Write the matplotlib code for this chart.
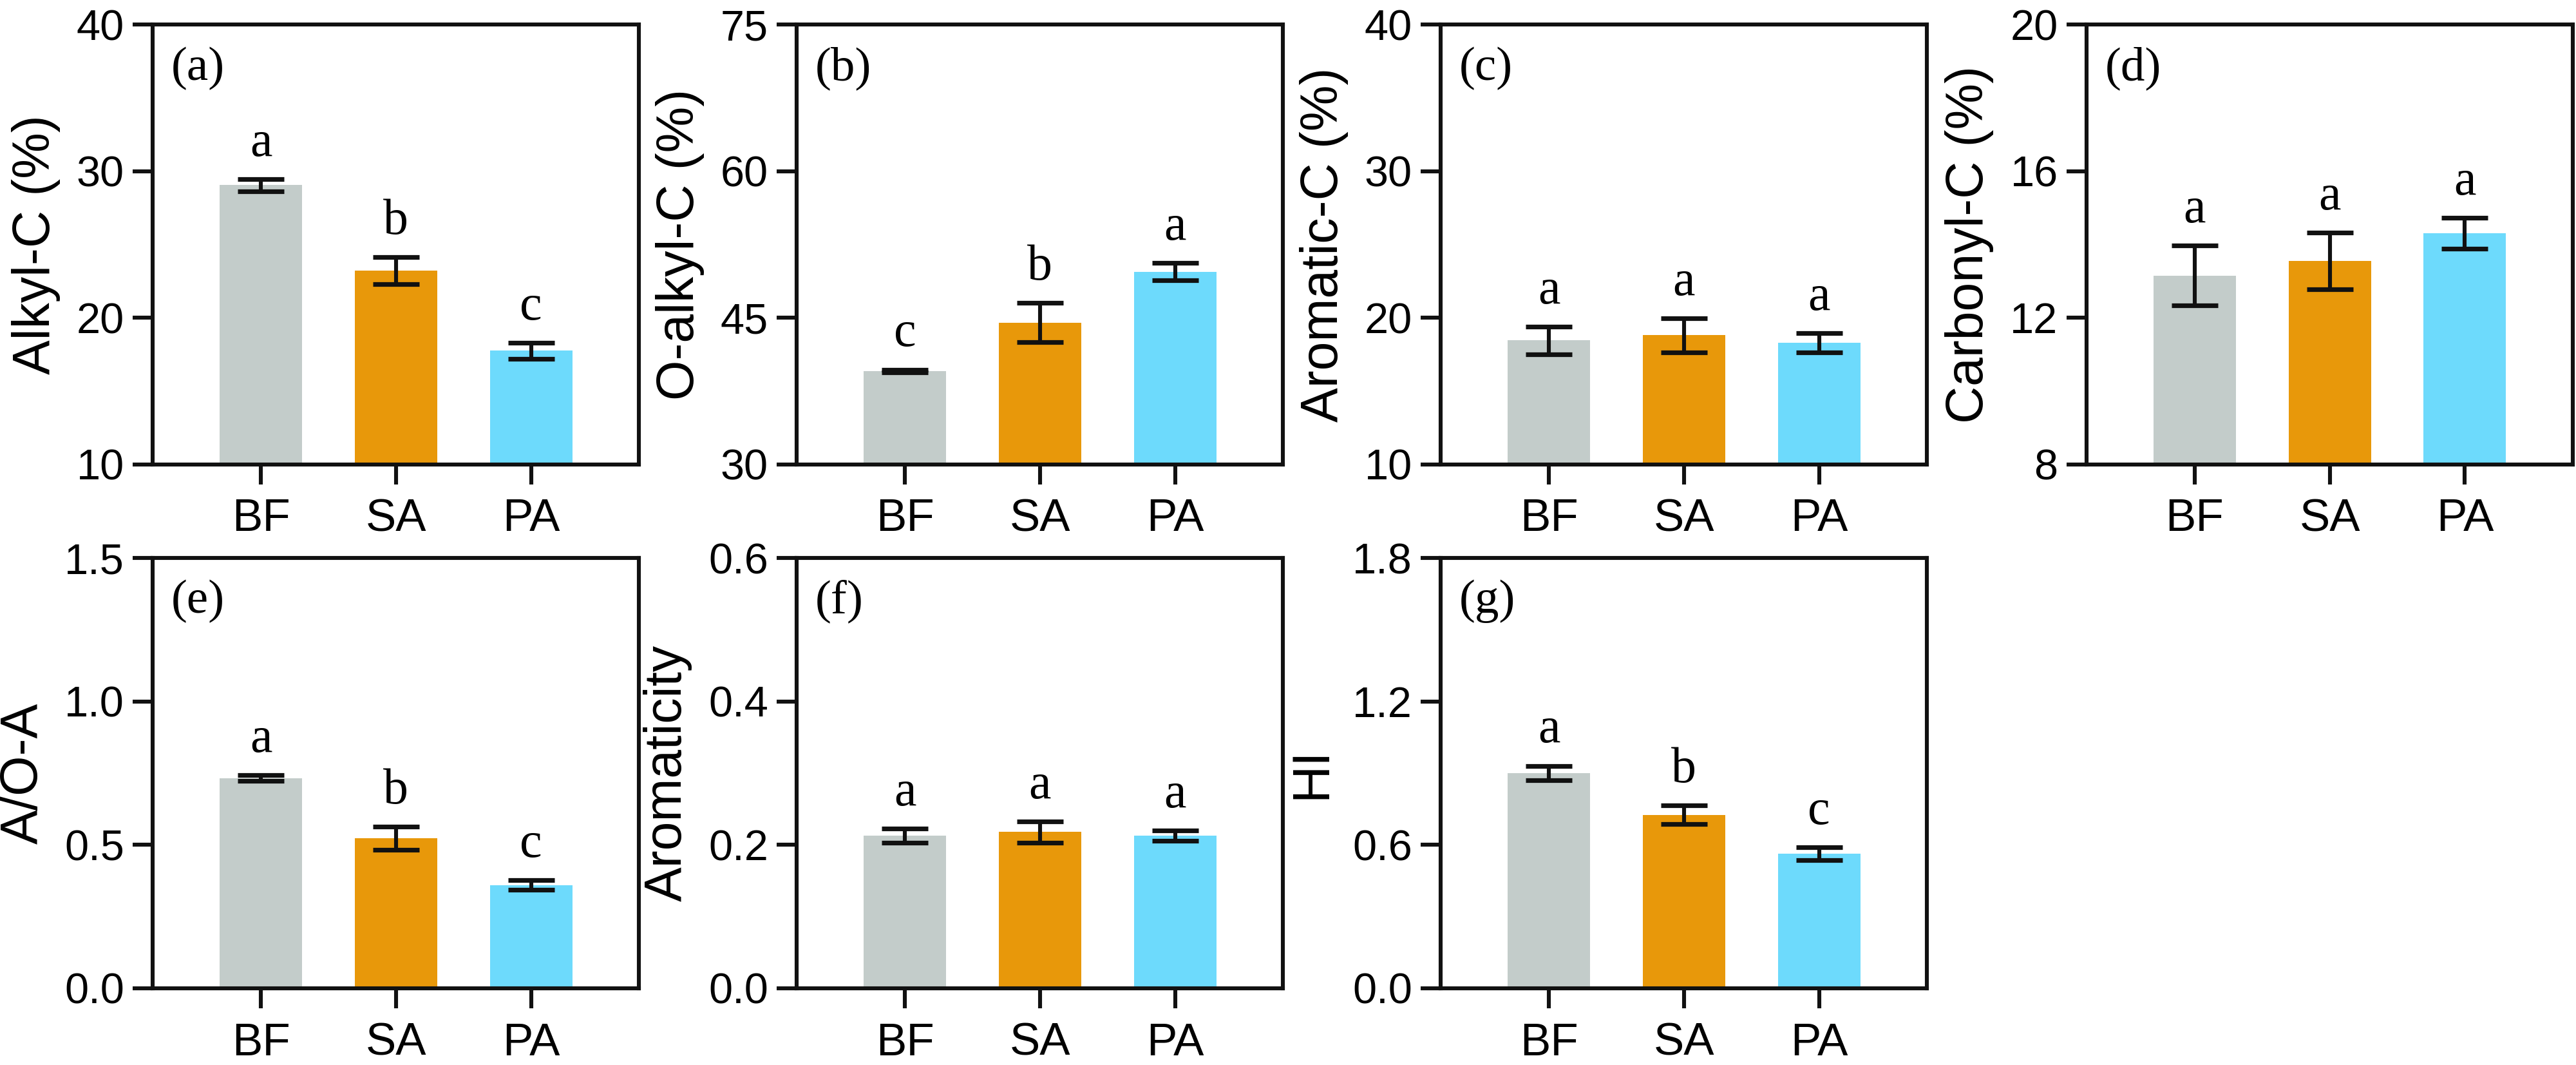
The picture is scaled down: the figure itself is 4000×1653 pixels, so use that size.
"""
Seven-panel bar chart of carbon functional groups (BF / SA / PA) with error bars
and significance letters.
"""

from __future__ import annotations

import matplotlib

matplotlib.use("Agg")
import matplotlib.pyplot as plt

groups = ["BF", "SA", "PA"]
bar_colors = ["#c3ccca", "#e8980a", "#6ddafc"]

panel_tags = ["(a)", "(b)", "(c)", "(d)", "(e)", "(f)", "(g)"]
ylabels = ["Alkyl-C (%)", "O-alkyl-C (%)", "Aromatic-C (%)", "Carbonyl-C (%)",
           "A/O-A", "Aromaticity", "HI"]

alkyl_mean = [29.05, 23.2, 17.75]
alkyl_err = [0.42, 0.93, 0.55]
alkyl_sig = ["a", "b", "c"]

oalkyl_mean = [39.55, 44.5, 49.7]
oalkyl_err = [0.15, 2.0, 0.9]
oalkyl_sig = ["c", "b", "a"]

aromatic_mean = [18.45, 18.8, 18.3]
aromatic_err = [0.95, 1.15, 0.65]
aromatic_sig = ["a", "a", "a"]

carbonyl_mean = [13.15, 13.55, 14.3]
carbonyl_err = [0.82, 0.77, 0.42]
carbonyl_sig = ["a", "a", "a"]

ao_mean = [0.733, 0.523, 0.360]
ao_err = [0.010, 0.040, 0.017]
ao_sig = ["a", "b", "c"]

aromaticity_mean = [0.213, 0.218, 0.213]
aromaticity_err = [0.010, 0.015, 0.007]
aromaticity_sig = ["a", "a", "a"]

hi_mean = [0.901, 0.726, 0.562]
hi_err = [0.030, 0.040, 0.027]
hi_sig = ["a", "b", "c"]

yticks = [
    [10, 20, 30, 40],
    [30, 45, 60, 75],
    [10, 20, 30, 40],
    [8, 12, 16, 20],
    [0.0, 0.5, 1.0, 1.5],
    [0.0, 0.2, 0.4, 0.6],
    [0.0, 0.6, 1.2, 1.8],
]
ytick_fmt = ["{:.0f}"] * 4 + ["{:.1f}"] * 3

SANS = "Liberation Sans"
SERIF = "Liberation Serif"
LW = 2.2


def draw_panel(ax, means, errs, sig, ylabel, tag, ticks, fmt) -> None:
    x = list(range(len(groups)))
    ax.bar(x, means, width=0.61, color=bar_colors, zorder=2)
    ax.errorbar(x, means, yerr=errs, fmt="none", ecolor="#111111",
                elinewidth=LW, capsize=13, capthick=2.6, zorder=3)
    for xi, m, e, s in zip(x, means, errs, sig):
        ax.annotate(s, (xi, m + e), xytext=(0, 13), textcoords="offset points",
                    ha="center", va="baseline", fontsize=28, family=SERIF)
    ax.set_xlim(-0.8, 2.8)
    ax.set_ylim(ticks[0], ticks[-1])
    ax.set_yticks(ticks)
    ax.set_yticklabels([fmt.format(t) for t in ticks], family=SANS, fontsize=24)
    ax.set_xticks(x)
    ax.set_xticklabels(groups, family=SANS, fontsize=25.5)
    ax.set_ylabel(ylabel, family=SANS, fontsize=29, labelpad=9)
    ax.text(0.038, 0.9, tag, transform=ax.transAxes, ha="left", va="center",
            fontsize=27, family=SERIF)
    for sp in ax.spines.values():
        sp.set_linewidth(LW)
        sp.set_color("#111111")
    ax.tick_params(direction="out", length=11, width=LW, color="#111111", pad=5)
    ax.tick_params(axis="x", pad=8)


def main() -> None:
    fig = plt.figure(figsize=(20, 8.265), dpi=200)
    means = [alkyl_mean, oalkyl_mean, aromatic_mean, carbonyl_mean,
             ao_mean, aromaticity_mean, hi_mean]
    errs = [alkyl_err, oalkyl_err, aromatic_err, carbonyl_err,
            ao_err, aromaticity_err, hi_err]
    sigs = [alkyl_sig, oalkyl_sig, aromatic_sig, carbonyl_sig,
            ao_sig, aromaticity_sig, hi_sig]

    lefts = [0.0593, 0.3093, 0.5593, 0.81]
    width = 0.1888
    rows = [(0.564, 0.413), (0.072, 0.404)]
    for i in range(7):
        r, c = divmod(i, 4)
        bottom, height = rows[r]
        ax = fig.add_axes([lefts[c], bottom, width, height])
        draw_panel(ax, means[i], errs[i], sigs[i], ylabels[i], panel_tags[i],
                   yticks[i], ytick_fmt[i])

    fig.savefig("out.png", dpi=200, facecolor="white")
    plt.close(fig)


if __name__ == "__main__":
    main()
